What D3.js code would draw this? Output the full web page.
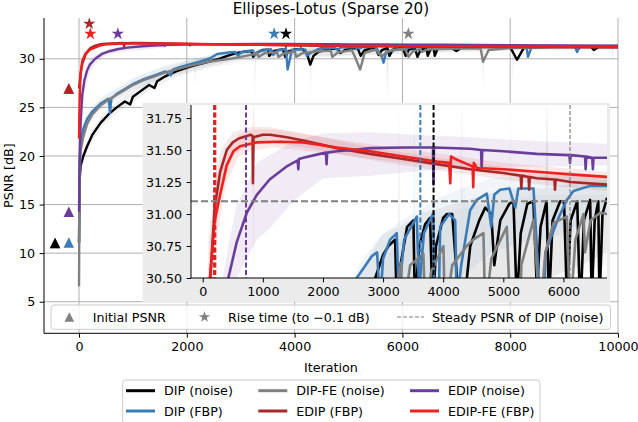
<!DOCTYPE html>
<html>
<head>
<meta charset="utf-8">
<script src="https://cdn.jsdelivr.net/npm/d3@7"></script>
<style>
body { margin: 0; background: #fff; }
svg { display: block; font-family: "DejaVu Sans", sans-serif; }
</style>
</head>
<body>
<div id="chart"></div>
<script>
// ---- data ----
var xTicks = [0, 2000, 4000, 6000, 8000, 10000];
var yTicks = [5, 10, 15, 20, 25, 30];
var insetXTicks = [0, 1000, 2000, 3000, 4000, 5000, 6000];
var insetYTicks = [30.5, 30.75, 31.0, 31.25, 31.5, 31.75];

var labels = ['DIP (noise)', 'DIP (FBP)', 'DIP-FE (noise)', 'EDIP (FBP)', 'EDIP (noise)', 'EDIP-FE (FBP)'];
var colors = ['#000000', '#3a7bb8', '#808080', '#a8282a', '#6a3d9a', '#ee2020'];
var bandOpacity = [0.06, 0.08, 0.06, 0.1, 0.1, 0.1];

var initialIter = [-445, -190, -445, -190, -190, -190];
var initialPsnr = [11.05, 11.1, 11.05, 26.95, 14.25, 26.95];
var riseIter = [3840, 3620, 6110, 190, 720, 210];
var risePsnr = [32.57, 32.57, 32.57, 33.6, 32.57, 32.57];
var steadyPsnr = 31.1;

// [iteration, PSNR]
var dipNoise = [[0, 11.05], [10, 17.5], [30, 19.0], [80, 20.0], [150, 21.0], [250, 22.2], [400, 23.4],
  [550, 24.3], [700, 25.0], [850, 25.6], [950, 25.3], [1000, 26.1], [1150, 26.7], [1300, 27.3],
  [1400, 27.0], [1450, 27.7], [1600, 28.2], [1800, 28.7], [2000, 29.1], [2200, 29.4], [2400, 29.7],
  [2600, 30.0], [2750, 30.3], [2870, 30.5], [3000, 30.68], [3089, 30.75], [3200, 30.8], [3233, 30.2],
  [3290, 30.6], [3400, 30.9], [3505, 30.95], [3530, 30.3], [3600, 30.75], [3700, 30.92], [3782, 30.97],
  [3827, 30.2], [3880, 30.75], [4000, 30.97], [4060, 31.0], [4150, 31.0], [4230, 30.5], [4290, 29.4],
  [4350, 30.3], [4450, 30.75], [4600, 30.95], [4700, 31.05], [4800, 31.0], [4850, 30.6], [4950, 30.95],
  [5100, 31.08], [5169, 31.1], [5225, 30.3], [5290, 30.85], [5400, 31.08], [5500, 31.1], [5560, 30.4],
  [5620, 30.9], [5720, 31.1], [5760, 30.3], [5820, 30.95], [5946, 31.1], [6010, 31.1], [6060, 30.3],
  [6120, 30.95], [6230, 31.1], [6280, 30.2], [6340, 30.95], [6445, 31.11], [6470, 30.3], [6520, 30.95],
  [6580, 31.1], [6600, 30.3], [6650, 31.0], [6722, 31.12], [6900, 31.15], [7000, 30.8], [7100, 31.15],
  [7500, 31.2], [8000, 31.2], [8126, 29.9], [8250, 31.1], [8500, 31.2], [9000, 31.25], [9500, 31.25],
  [9550, 30.9], [9650, 31.25], [10000, 31.28]];

var dipFbp = [[0, 11.1], [10, 19.5], [30, 21.5], [80, 22.8], [150, 23.8], [250, 24.6], [400, 25.4],
  [550, 25.9], [575, 24.4], [600, 25.9], [700, 26.4], [850, 26.9], [1000, 27.4], [1200, 27.9],
  [1400, 28.3], [1600, 28.7], [1700, 28.3], [1750, 28.9], [1900, 29.2], [2100, 29.5], [2300, 29.8],
  [2450, 30.1], [2562, 30.5], [2812, 30.67], [2900, 30.7], [2950, 30.3], [3000, 30.65], [3117, 30.8],
  [3228, 30.85], [3260, 30.35], [3350, 30.8], [3560, 30.98], [3600, 30.4], [3680, 30.85], [3838, 31.01],
  [3870, 28.9], [3950, 30.9], [4100, 31.0], [4200, 30.95], [4226, 30.3], [4300, 30.6], [4448, 31.03],
  [4559, 31.11], [4725, 31.16], [4800, 30.9], [4850, 31.15], [4947, 31.19], [5100, 31.2], [5200, 31.05],
  [5250, 31.2], [5502, 31.2], [5613, 30.3], [5650, 29.6], [5700, 30.7], [5900, 30.95], [6057, 31.11],
  [6167, 31.18], [6445, 31.22], [6722, 31.22], [7000, 31.25], [7600, 31.28], [8300, 31.3], [8330, 30.2],
  [8400, 31.25], [9200, 31.3], [9240, 30.7], [9300, 31.3], [10000, 31.32]];

var dipFeNoise = [[0, 6.6], [8, 17.0], [30, 20.5], [80, 22.0], [150, 23.3], [250, 24.3], [400, 25.2],
  [550, 25.8], [700, 26.3], [850, 26.8], [1000, 27.3], [1200, 27.8], [1400, 28.2], [1600, 28.6],
  [1800, 28.9], [2000, 29.2], [2200, 29.45], [2400, 29.7], [2600, 29.85], [2800, 30.0], [3000, 30.2],
  [3228, 30.45], [3300, 30.62], [3330, 30.2], [3450, 30.6], [3671, 30.69], [3700, 30.2], [3800, 30.55],
  [4004, 30.75], [4030, 30.2], [4150, 30.6], [4393, 30.75], [4500, 30.8], [4670, 30.85], [4700, 30.2],
  [4800, 30.65], [5058, 30.9], [5120, 30.2], [5216, 28.9], [5300, 30.6], [5502, 30.955], [5613, 30.2],
  [5700, 30.7], [5835, 30.93], [6057, 30.98], [6110, 30.2], [6200, 30.8], [6334, 31.0], [6360, 30.7],
  [6450, 30.95], [6611, 31.01], [6722, 31.0], [7000, 31.05], [7450, 31.08], [7496, 29.7], [7600, 30.9],
  [8000, 31.1], [8500, 31.15], [9000, 31.2], [10000, 31.25]];

var edipFbp = [[0, 26.95], [10, 27.5], [30, 28.5], [60, 29.5], [100, 30.1], [125, 30.5], [200, 31.05],
  [290, 31.33], [400, 31.5], [500, 31.56], [600, 31.59], [800, 31.62], [830, 31.61], [835, 31.24],
  [845, 31.6], [1000, 31.62], [1120, 31.62], [1400, 31.6], [1674, 31.575], [2230, 31.515], [2784, 31.47],
  [3340, 31.43], [3894, 31.39], [4449, 31.35], [5004, 31.32], [5290, 31.3], [5300, 31.2], [5310, 31.3],
  [5420, 31.29], [5430, 31.19], [5440, 31.29], [5558, 31.28], [5850, 31.27], [5860, 31.19], [5870, 31.27],
  [6113, 31.25], [6723, 31.23], [8000, 31.2], [10000, 31.15]];

var edipNoise = [[0, 14.25], [5, 17], [15, 20.5], [30, 23.5], [60, 26.3], [100, 27.8], [150, 28.8],
  [200, 29.4], [300, 30.0], [426, 30.5], [566, 30.78], [733, 31.01], [900, 31.15], [1113, 31.27],
  [1390, 31.37], [1580, 31.42], [1590, 31.35], [1600, 31.43], [1674, 31.44], [1950, 31.47], [2050, 31.48],
  [2060, 31.39], [2070, 31.48], [2230, 31.49], [2500, 31.5], [2784, 31.515], [3340, 31.52], [3830, 31.52],
  [3838, 31.23], [3846, 31.52], [4449, 31.51], [4630, 31.5], [4640, 31.36], [4650, 31.5], [5004, 31.49],
  [5558, 31.47], [6100, 31.46], [6110, 31.4], [6120, 31.46], [6360, 31.45], [6370, 31.35], [6380, 31.45],
  [6480, 31.44], [6490, 31.35], [6500, 31.44], [6723, 31.44], [8000, 31.4], [10000, 31.35]];

var edipFeFbp = [[0, 21.8], [5, 24], [15, 26.5], [30, 28.5], [60, 29.8], [100, 30.3], [121, 30.5],
  [200, 30.95], [290, 31.15], [398, 31.38], [510, 31.49], [620, 31.53], [900, 31.56], [1300, 31.565],
  [1675, 31.56], [2230, 31.52], [2784, 31.49], [3340, 31.45], [3894, 31.41], [4100, 31.4], [4118, 31.24],
  [4130, 31.45], [4200, 31.43], [4449, 31.38], [4490, 31.37], [4500, 31.21], [4510, 31.4], [4560, 31.36],
  [5004, 31.35], [5558, 31.33], [6113, 31.31], [6723, 31.29], [8000, 31.27], [10000, 31.25]];

// [iteration, low, high] spread over runs
var dipNoiseBand = [[0, 11.05, 11.05], [20, 17.5, 19.2], [80, 19.4, 20.7], [150, 20.4, 21.6], [250, 21.6, 22.8],
  [400, 22.8, 24.0], [550, 23.7, 24.9], [700, 24.4, 25.6], [850, 25.0, 26.2], [1000, 25.5, 26.7],
  [1150, 26.1, 27.3], [1300, 26.7, 27.9], [1450, 27.1, 28.3], [1600, 27.6, 28.8], [1800, 28.1, 29.3],
  [2000, 28.5, 29.7], [2200, 28.8, 30.0], [2400, 29.1, 30.3], [2600, 29.4, 30.5], [2800, 29.7, 30.7],
  [3000, 29.9, 30.85], [3250, 30.0, 30.9], [3265, 25.8, 31.9], [3280, 30.0, 30.9], [3600, 30.1, 31.0],
  [4000, 30.2, 31.05], [4285, 30.2, 31.1], [4300, 25.8, 31.95], [4320, 30.2, 31.1], [4700, 30.3, 31.15],
  [5100, 30.4, 31.2], [5700, 30.5, 31.2], [5725, 25.8, 31.9], [5750, 30.5, 31.2], [6300, 30.6, 31.25],
  [6723, 30.7, 31.25], [7480, 30.8, 31.3], [7500, 26.8, 31.3], [7520, 30.8, 31.3], [8030, 30.9, 31.35],
  [8050, 27.3, 31.35], [8070, 30.9, 31.35], [9880, 31.0, 31.4], [9900, 29.3, 31.4], [9920, 31.0, 31.4],
  [10000, 31.0, 31.4]];

var dipFbpBand = [[0, 11.1, 11.1], [20, 19.5, 22.0], [80, 22.1, 23.5], [150, 23.1, 24.5], [250, 24.0, 25.2],
  [400, 24.8, 26.0], [550, 25.3, 26.5], [700, 25.8, 27.0], [850, 26.3, 27.5], [1000, 26.8, 28.0],
  [1200, 27.3, 28.5], [1400, 27.7, 28.9], [1600, 28.1, 29.3], [1900, 28.6, 29.7], [2130, 29.0, 30.0],
  [2150, 27.0, 30.0], [2170, 29.0, 30.0], [2300, 29.2, 30.2], [2600, 29.6, 30.6], [2900, 29.9, 30.8],
  [3300, 30.2, 30.95], [3500, 30.3, 31.0], [3520, 30.3, 31.95], [3540, 30.3, 31.0], [3800, 30.4, 31.1],
  [4300, 30.5, 31.2], [4800, 30.7, 31.28], [5500, 30.8, 31.3], [5710, 30.8, 31.3], [5725, 28.5, 31.95],
  [5740, 30.8, 31.3], [6200, 30.9, 31.3], [6723, 31.0, 31.3], [8000, 31.05, 31.38], [10000, 31.1, 31.4]];

var dipFeNoiseBand = [[0, 6.6, 6.6], [20, 18.8, 21.2], [80, 21.3, 22.7], [150, 22.7, 23.9], [250, 23.7, 24.9],
  [400, 24.6, 25.8], [550, 25.2, 26.4], [700, 25.7, 26.9], [850, 26.2, 27.4], [1000, 26.7, 27.9],
  [1200, 27.2, 28.4], [1400, 27.6, 28.8], [1600, 28.0, 29.2], [1800, 28.3, 29.5], [2000, 28.6, 29.8],
  [2400, 29.1, 30.2], [2800, 29.4, 30.5], [3200, 29.7, 30.75], [3600, 29.9, 30.9], [4000, 30.1, 31.0],
  [4330, 30.15, 31.05], [4345, 28.0, 31.95], [4360, 30.15, 31.05], [5000, 30.3, 31.1], [5100, 30.3, 31.1],
  [5115, 28.5, 31.95], [5130, 30.3, 31.1], [5500, 30.4, 31.15], [6000, 30.5, 31.15], [6723, 30.6, 31.15],
  [8000, 30.8, 31.3], [10000, 31.0, 31.4]];

var edipFbpBand = [[0, 26.95, 26.95], [30, 27.8, 29.3], [100, 29.7, 30.6], [200, 30.8, 31.3],
  [300, 31.15, 31.5], [500, 31.46, 31.64], [800, 31.55, 31.68], [1100, 31.56, 31.68], [1700, 31.52, 31.63],
  [2800, 31.42, 31.52], [3900, 31.34, 31.44], [5000, 31.27, 31.37], [6000, 31.21, 31.31],
  [6723, 31.18, 31.28], [10000, 31.1, 31.22]];

var edipNoiseBand = [[0, 14.25, 14.25], [30, 21, 25], [100, 26.5, 28.7], [200, 28.6, 29.9],
  [300, 29.5, 30.4], [426, 30.1, 30.75], [566, 30.5, 31.07], [900, 30.8, 31.4], [1120, 30.89, 31.46],
  [1500, 31.1, 31.57], [2000, 31.28, 31.63], [2784, 31.3, 31.64], [3500, 31.33, 31.62],
  [4450, 31.37, 31.6], [5500, 31.37, 31.57], [6723, 31.38, 31.55], [10000, 31.3, 31.45]];

var edipFeFbpBand = [[0, 21.8, 21.8], [30, 27.5, 29.5], [100, 29.8, 30.8], [121, 30.2, 30.9],
  [200, 30.7, 31.25], [300, 31.0, 31.4], [400, 31.25, 31.52], [600, 31.45, 31.62], [830, 31.5, 31.66],
  [845, 30.4, 31.95], [860, 31.5, 31.66], [1200, 31.52, 31.66], [2000, 31.48, 31.6], [3000, 31.42, 31.53],
  [4000, 31.37, 31.47], [5000, 31.3, 31.4], [6000, 31.25, 31.36], [6723, 31.22, 31.33], [10000, 31.1, 31.3]];

var lines = [dipNoise, dipFbp, dipFeNoise, edipFbp, edipNoise, edipFeFbp];
var bands = [dipNoiseBand, dipFbpBand, dipFeNoiseBand, edipFbpBand, edipNoiseBand, edipFeFbpBand];

// ---- layout ----
var W = 638, H = 422;
var fontSize = 12.7;
var svg = d3.select('#chart').append('svg').attr('width', W).attr('height', H);

var main = {left: 44, right: 618, top: 18, bottom: 333.3};
var x = d3.scaleLinear().domain([-650, 10000]).range([main.left, main.right]);
var y = d3.scaleLinear().domain([1.75, 34.2]).range([main.bottom, main.top]);

var ins = {left: 191, right: 607, top: 105, bottom: 278};
var xi = d3.scaleLinear().domain([-195, 6725]).range([ins.left, ins.right]);
var yi = d3.scaleLinear().domain([30.5, 31.852]).range([ins.bottom, ins.top]);

var defs = svg.append('defs');
defs.append('clipPath').attr('id', 'clipMain').append('rect')
    .attr('x', main.left).attr('y', main.top)
    .attr('width', main.right - main.left).attr('height', main.bottom - main.top);
defs.append('clipPath').attr('id', 'clipInset').append('rect')
    .attr('x', ins.left).attr('y', ins.top)
    .attr('width', ins.right - ins.left).attr('height', ins.bottom - ins.top);

var styleAxis = function(g) {
    g.select('.domain').remove();
    g.selectAll('.tick line').attr('stroke', '#000').attr('stroke-width', 1);
    g.selectAll('.tick text').attr('fill', '#000')
        .attr('font-size', fontSize).attr('font-family', 'DejaVu Sans');
};

var triangleUp = {
    draw: function(ctx, size) {
        var r = Math.sqrt(size) / 2;
        ctx.moveTo(0, -r);
        ctx.lineTo(r, r);
        ctx.lineTo(-r, r);
        ctx.closePath();
    }
};

// ---- main axes ----
var grid = svg.append('g').attr('stroke', '#b0b0b0').attr('stroke-width', 1);
xTicks.forEach(function(t) {
    grid.append('line').attr('x1', x(t)).attr('x2', x(t)).attr('y1', main.top).attr('y2', main.bottom);
});
yTicks.forEach(function(t) {
    grid.append('line').attr('x1', main.left).attr('x2', main.right).attr('y1', y(t)).attr('y2', y(t));
});

var drawSeries = function(g, xs, ys, width) {
    var area = d3.area()
        .x(function(d) { return xs(d[0]); })
        .y0(function(d) { return ys(d[1]); })
        .y1(function(d) { return ys(d[2]); });
    var line = d3.line()
        .x(function(d) { return xs(d[0]); })
        .y(function(d) { return ys(d[1]); });
    bands.forEach(function(b, i) {
        g.append('path').attr('d', area(b))
            .attr('fill', colors[i]).attr('fill-opacity', bandOpacity[i]).attr('stroke', 'none');
    });
    lines.forEach(function(l, i) {
        g.append('path').attr('d', line(l))
            .attr('fill', 'none').attr('stroke', colors[i])
            .attr('stroke-width', width).attr('stroke-linejoin', 'round');
    });
};

var mainG = svg.append('g').attr('clip-path', 'url(#clipMain)');
drawSeries(mainG, x, y, 2.4);

// initial PSNR triangles (drawn back to front so the visible ones land on top)
var markG = svg.append('g');
for (var i = labels.length - 1; i >= 0; i--) {
    markG.append('path')
        .attr('d', d3.symbol().type(triangleUp).size(110)())
        .attr('transform', 'translate(' + x(initialIter[i]) + ',' + y(initialPsnr[i]) + ')')
        .attr('fill', colors[i]);
}
for (var j = 0; j < labels.length; j++) {
    markG.append('path')
        .attr('d', d3.symbol().type(d3.symbolStar).size(48)())
        .attr('transform', 'translate(' + x(riseIter[j]) + ',' + y(risePsnr[j]) + ')')
        .attr('fill', colors[j]);
}

svg.append('g').attr('transform', 'translate(0,' + main.bottom + ')')
    .call(d3.axisBottom(x).tickValues(xTicks).tickSize(4.4).tickPadding(4.4).tickFormat(d3.format('d')))
    .call(styleAxis);
svg.append('g').attr('transform', 'translate(' + main.left + ',0)')
    .call(d3.axisLeft(y).tickValues(yTicks).tickSize(4.4).tickPadding(4.4).tickFormat(d3.format('d')))
    .call(styleAxis);

svg.append('line').attr('x1', main.left).attr('x2', main.left)
    .attr('y1', main.top).attr('y2', main.bottom).attr('stroke', '#000');
svg.append('line').attr('x1', main.left).attr('x2', main.right)
    .attr('y1', main.bottom).attr('y2', main.bottom).attr('stroke', '#000');

svg.append('text').attr('x', (main.left + main.right) / 2).attr('y', 14)
    .attr('text-anchor', 'middle').attr('font-size', 15.2).text('Ellipses-Lotus (Sparse 20)');
svg.append('text').attr('x', (main.left + main.right) / 2).attr('y', 372)
    .attr('text-anchor', 'middle').attr('font-size', fontSize).text('Iteration');
svg.append('text').attr('transform', 'translate(12.5,' + ((main.top + main.bottom) / 2) + ') rotate(-90)')
    .attr('text-anchor', 'middle').attr('font-size', fontSize).text('PSNR [dB]');

// ---- inset ----
svg.append('rect').attr('x', 142.7).attr('y', 103).attr('width', 610 - 142.7).attr('height', 302 - 103)
    .attr('fill', '#ebebeb');
svg.append('rect').attr('x', ins.left).attr('y', ins.top)
    .attr('width', ins.right - ins.left).attr('height', ins.bottom - ins.top).attr('fill', '#fff');

var insG = svg.append('g').attr('clip-path', 'url(#clipInset)');
drawSeries(insG, xi, yi, 2.6);

insG.append('line').attr('x1', ins.left).attr('x2', ins.right)
    .attr('y1', yi(steadyPsnr)).attr('y2', yi(steadyPsnr))
    .attr('stroke', '#808080').attr('stroke-width', 2).attr('stroke-dasharray', '7,3');
riseIter.forEach(function(r, k) {
    insG.append('line').attr('x1', xi(r)).attr('x2', xi(r))
        .attr('y1', ins.top).attr('y2', ins.bottom)
        .attr('stroke', colors[k])
        .attr('stroke-width', k == 2 ? 1.2 : 2)
        .attr('stroke-dasharray', k == 2 ? '4,2' : '5,2.5');
});

svg.append('g').attr('transform', 'translate(0,' + ins.bottom + ')')
    .call(d3.axisBottom(xi).tickValues(insetXTicks).tickSize(4.4).tickPadding(4.4).tickFormat(d3.format('d')))
    .call(styleAxis);
svg.append('g').attr('transform', 'translate(' + ins.left + ',0)')
    .call(d3.axisLeft(yi).tickValues(insetYTicks).tickSize(4.4).tickPadding(4.4).tickFormat(d3.format('.2f')))
    .call(styleAxis);
svg.append('line').attr('x1', ins.left).attr('x2', ins.left)
    .attr('y1', ins.top).attr('y2', ins.bottom).attr('stroke', '#000');
svg.append('line').attr('x1', ins.left).attr('x2', ins.right)
    .attr('y1', ins.bottom).attr('y2', ins.bottom).attr('stroke', '#000');

// ---- legend inside the axes ----
var leg1 = svg.append('g');
leg1.append('rect').attr('x', 51).attr('y', 305).attr('width', 610.5 - 51).attr('height', 24.3)
    .attr('rx', 3).attr('fill', '#fff').attr('fill-opacity', 0.8).attr('stroke', '#cccccc');
leg1.append('path').attr('d', d3.symbol().type(triangleUp).size(95)())
    .attr('transform', 'translate(69.3,317)').attr('fill', '#808080');
leg1.append('text').attr('x', 92.7).attr('y', 321.7).attr('font-size', fontSize).text('Initial PSNR');
leg1.append('path').attr('d', d3.symbol().type(d3.symbolStar).size(40)())
    .attr('transform', 'translate(204.5,317)').attr('fill', '#808080');
leg1.append('text').attr('x', 228).attr('y', 321.7).attr('font-size', fontSize).text('Rise time (to \u22120.1 dB)');
leg1.append('line').attr('x1', 397).attr('x2', 424).attr('y1', 317).attr('y2', 317)
    .attr('stroke', '#808080').attr('stroke-width', 1.2).attr('stroke-dasharray', '4,2');
leg1.append('text').attr('x', 432).attr('y', 321.7).attr('font-size', fontSize).text('Steady PSNR of DIP (noise)');

// ---- legend below ----
var leg2 = svg.append('g');
leg2.append('rect').attr('x', 122.7).attr('y', 380).attr('width', 540 - 122.7).attr('height', 50)
    .attr('rx', 3).attr('fill', '#fff').attr('stroke', '#cccccc');
var colX = [126, 258.3, 410];
var rowY = [390.7, 411];
labels.forEach(function(name, k) {
    var cx = colX[Math.floor(k / 2)], cy = rowY[k % 2];
    leg2.append('line').attr('x1', cx).attr('x2', cx + 29).attr('y1', cy).attr('y2', cy)
        .attr('stroke', colors[k]).attr('stroke-width', 3);
    leg2.append('text').attr('x', cx + 38).attr('y', cy + 4.6).attr('font-size', fontSize).text(name);
});
</script>
</body>
</html>
